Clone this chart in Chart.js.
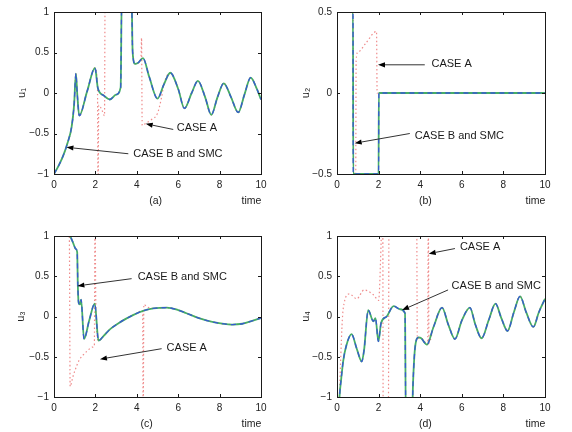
<!DOCTYPE html>
<html>
<head>
<meta charset="utf-8">
<script src="https://cdn.jsdelivr.net/npm/chart.js@4.4.1/dist/chart.umd.min.js"></script>
<style>
  html, body { margin: 0; padding: 0; background: #fff; }
  #wrap { position: relative; width: 572px; height: 432px; background: #fff; overflow: hidden; }
  #wrap canvas { position: absolute; }
</style>
</head>
<body>
<div id="wrap">
  <canvas id="pa" width="286" height="216" style="left:0px;top:0px"></canvas>
  <canvas id="pb" width="286" height="216" style="left:286px;top:0px"></canvas>
  <canvas id="pc" width="286" height="216" style="left:0px;top:216px"></canvas>
  <canvas id="pd" width="286" height="216" style="left:286px;top:216px"></canvas>
</div>
<script>
// ---- axis ticks ----
const timeTicks = [0, 2, 4, 6, 8, 10];
const yTicksFull = [-1, -0.5, 0, 0.5, 1];
const yTicksHalf = [-0.5, 0, 0.5];

// ---- u1 : CASE B and SMC ----
const tB1 = [0, 0.2, 0.45, 0.65, 0.85, 0.97, 1.06, 1.12, 1.22, 1.6, 1.98, 2.12, 2.4, 2.7, 3.0, 3.22, 3.28, 3.74, 3.8, 3.92,
             4.05, 4.3, 4.6, 5.0, 5.3, 5.62, 6.0, 6.3, 6.65, 6.95, 7.3, 7.6, 7.9, 8.2, 8.55, 8.9, 9.2, 9.5, 9.8, 10];
const u1B = [-1, -0.91, -0.77, -0.62, -0.42, -0.15, 0.24, 0.0, -0.28, 0.02, 0.31, 0.06, -0.03, -0.08, -0.02, 0.07, 1.3, 1.3, 0.5, 0.36,
             0.37, 0.43, 0.2, -0.07, 0.1, 0.25, 0.05, -0.19, 0.0, 0.15, -0.05, -0.27, -0.05, 0.12, -0.05, -0.24, -0.02, 0.19, 0.05, -0.08];
// ---- u1 : CASE A (transient, then shares the CASE B curve) ----
const tA1 = [0, 0.2, 0.45, 0.65, 0.85, 0.97, 1.06, 1.12, 1.22, 1.6, 1.98, 2.1, 2.13, 2.16, 2.3, 2.44, 2.47, 3.74, 3.8, 3.92,
             4.05, 4.2, 4.23, 4.26, 4.45, 4.7, 5.0, 5.2];
const u1A = [-1, -0.91, -0.77, -0.62, -0.42, -0.15, 0.24, 0.0, -0.28, 0.02, 0.31, 0.08, -1.3, -0.15, -0.2, -0.28, 1.3, 1.3, 0.5, 0.36,
             0.37, 0.42, 0.68, -0.4, -0.37, -0.33, -0.25, -0.05];

// ---- u2 ----
const tB2 = [0, 0.77, 0.78, 2.0, 2.01, 10];
const u2B = [0.5, 0.5, -0.5, -0.5, 0, 0];
const tA2 = [0, 0.77, 0.8, 0.9, 0.92, 1.0, 1.4, 1.9, 1.93, 2.01, 10];
const u2A = [0.5, 0.5, -0.5, -0.5, 0.2, 0.25, 0.31, 0.38, 0, 0, 0];

// ---- u3 ----
const tB3 = [0, 0.75, 0.9, 1.05, 1.12, 1.15, 1.19, 1.25, 1.31, 1.45, 1.7, 1.97, 2.15, 2.4, 2.7, 3.2, 3.84, 4.3, 4.8, 5.45,
             6.0, 6.4, 7.0, 7.7, 8.6, 9.1, 9.5, 10];
const u3B = [1, 1, 0.93, 0.84, 0.8, 0.4, 0.17, 0.15, 0.21, -0.28, -0.05, 0.16, -0.3, -0.24, -0.16, -0.07, 0.02, 0.07, 0.1, 0.11,
             0.08, 0.04, -0.02, -0.07, -0.1, -0.09, -0.06, -0.02];
const tA3 = [0, 0.74, 0.78, 0.9, 1.0, 1.2, 1.4, 1.6, 1.85, 1.95, 1.98, 2.02, 2.15, 2.4, 2.7, 3.2, 3.84, 4.28, 4.31, 4.34, 4.5];
const u3A = [1, 1, -0.87, -0.76, -0.68, -0.55, -0.48, -0.43, -0.38, -0.36, 1.3, 0.16, -0.3, -0.24, -0.16, -0.07, 0.02, 0.07, -1.3, 0.15, 0.12];

// ---- u4 ----
const tB4 = [0.07, 0.12, 0.2, 0.3, 0.45, 0.7, 0.95, 1.19, 1.3, 1.5, 1.75, 1.85, 1.99, 2.12, 2.39, 2.72, 3.03, 3.27, 3.31, 3.6,
             3.66, 3.76, 3.92, 4.05, 4.32, 4.64, 5.05, 5.35, 5.67, 6.0, 6.39, 6.65, 6.95, 7.3, 7.62, 7.9, 8.2, 8.5, 8.8, 9.1,
             9.44, 9.7, 10];
const u4B = [-1.3, -1.0, -0.78, -0.55, -0.36, -0.22, -0.4, -0.56, -0.42, 0.08, -0.06, -0.02, -0.31, -0.08, 0.0, 0.13, 0.09, 0.04, -1.3, -1.3,
             -0.8, -0.37, -0.26, -0.27, -0.35, -0.13, 0.11, -0.1, -0.28, -0.05, 0.11, -0.1, -0.27, -0.04, 0.16, -0.02, -0.18, 0.05, 0.25, 0.05,
             -0.13, 0.05, 0.22];
const tA4 = [0.07, 0.3, 0.6, 0.95, 1.3, 1.75, 2.0, 2.2, 2.22, 2.47, 2.5, 3.83, 3.86, 4.05, 4.36, 4.39, 4.42, 4.64];
const u4A = [-1.3, 0.1, 0.28, 0.22, 0.33, 0.27, 0.2, 1.3, -1.3, -1.3, 1.3, 1.3, -0.27, -0.27, -0.35, 1.3, -0.33, -0.13];

// ---- callouts: [label, text anchor (t,u), arrow tail (t,u), arrow tip (t,u)] ----
const notesA = [
  ['CASE A',         [5.93, -0.43], [5.76, -0.45], [4.43, -0.38]],
  ['CASE B and SMC', [3.83, -0.75], [3.59, -0.75], [0.6, -0.67]]
];
const notesB = [
  ['CASE A',         [4.54, 0.178], [4.22, 0.174], [1.97, 0.174]],
  ['CASE B and SMC', [3.74, -0.263], [3.5, -0.25], [0.85, -0.31]]
];
const notesC = [
  ['CASE B and SMC', [4.04, 0.485], [3.75, 0.47], [1.13, 0.38]],
  ['CASE A',         [5.44, -0.39], [5.2, -0.4], [2.22, -0.53]]
];
const notesD = [
  ['CASE A',         [5.91, 0.864], [5.67, 0.844], [4.41, 0.78]],
  ['CASE B and SMC', [5.51, 0.38], [5.34, 0.33], [3.13, 0.08]]
];

const FONT = "'Liberation Sans', Arial, Helvetica, sans-serif";
Chart.defaults.font.family = FONT;
Chart.defaults.color = '#222';

function pts(t, u) { return t.map((x, i) => ({ x: x, y: u[i] })); }
// CASE A rejoins CASE B after its transient: append the shared tail
function withTail(tA, uA, tB, uB) {
  const last = tA[tA.length - 1];
  const out = pts(tA, uA);
  tB.forEach((x, i) => { if (x > last) out.push({ x: x, y: uB[i] }); });
  return out;
}
function fmt(v) { return v < 0 ? '\u2212' + String(Math.abs(v)) : String(v); }

const framePlugin = {
  id: 'frame',
  afterDatasetsDraw(chart, args, o) {
    const { ctx, chartArea: a } = chart;
    const x = chart.scales.x, y = chart.scales.y;
    ctx.save();
    // box and inward tick marks on all four sides
    ctx.strokeStyle = '#1a1a1a';
    ctx.lineWidth = 1;
    ctx.beginPath();
    o.xTicks.forEach(v => {
      const px = Math.round(x.getPixelForValue(v)) + 0.5;
      ctx.moveTo(px, a.bottom); ctx.lineTo(px, a.bottom - 3);
      ctx.moveTo(px, a.top); ctx.lineTo(px, a.top + 3);
    });
    o.yTicks.forEach(v => {
      const py = Math.round(y.getPixelForValue(v)) + 0.5;
      ctx.moveTo(a.left, py); ctx.lineTo(a.left + 3, py);
      ctx.moveTo(a.right, py); ctx.lineTo(a.right - 3, py);
    });
    ctx.stroke();
    ctx.strokeRect(Math.round(a.left) + 0.5, Math.round(a.top) + 0.5,
                   Math.round(a.right) - Math.round(a.left), Math.round(a.bottom) - Math.round(a.top));

    // callouts with arrows
    ctx.font = '11px ' + FONT;
    ctx.textBaseline = 'middle';
    ctx.textAlign = 'left';
    o.notes.forEach(n => {
      const [label, tp, tail, tip] = n;
      ctx.fillStyle = '#1a1a1a';
      ctx.fillText(label, x.getPixelForValue(tp[0]), y.getPixelForValue(tp[1]));
      const x0 = x.getPixelForValue(tail[0]), y0 = y.getPixelForValue(tail[1]);
      const x1 = x.getPixelForValue(tip[0]), y1 = y.getPixelForValue(tip[1]);
      const ang = Math.atan2(y1 - y0, x1 - x0);
      const L = 7, W = 2.6;
      ctx.strokeStyle = '#333';
      ctx.lineWidth = 1;
      ctx.beginPath();
      ctx.moveTo(x0, y0);
      ctx.lineTo(x1 - L * Math.cos(ang), y1 - L * Math.sin(ang));
      ctx.stroke();
      ctx.fillStyle = '#000';
      ctx.beginPath();
      ctx.moveTo(x1, y1);
      ctx.lineTo(x1 - L * Math.cos(ang) + W * Math.sin(ang), y1 - L * Math.sin(ang) - W * Math.cos(ang));
      ctx.lineTo(x1 - L * Math.cos(ang) - W * Math.sin(ang), y1 - L * Math.sin(ang) + W * Math.cos(ang));
      ctx.closePath();
      ctx.fill();
    });

    // panel tag and time label under the axis
    ctx.font = '10.5px ' + FONT;
    ctx.fillStyle = '#222';
    ctx.textAlign = 'center';
    ctx.fillText(o.tag, a.left + o.tagDx, a.bottom + 27);
    ctx.fillText('time', a.right - 9.5, a.bottom + 27);
    ctx.restore();
  }
};

function panel(id, cfg) {
  const W = 286, H = 216;
  const caseBData = pts(cfg.tB, cfg.uB);
  return new Chart(document.getElementById(id), {
    type: 'line',
    data: {
      datasets: [
        { label: 'SMC', data: caseBData, borderColor: 'rgba(55,85,215,0.95)', borderWidth: 1.3,
          borderDash: [5, 4], pointRadius: 0, cubicInterpolationMode: 'monotone' },
        { label: 'CASE B', data: caseBData, borderColor: 'rgba(60,170,95,0.95)', borderWidth: 1.8,
          pointRadius: 0, cubicInterpolationMode: 'monotone' },
        { label: 'CASE A', data: withTail(cfg.tA, cfg.uA, cfg.tB, cfg.uB), borderColor: 'rgba(235,110,110,0.8)',
          borderWidth: 1.2, borderDash: [1.5, 2.5], pointRadius: 0, cubicInterpolationMode: 'monotone' }
      ]
    },
    options: {
      responsive: false,
      animation: false,
      devicePixelRatio: 1,
      layout: { padding: { left: 0, top: cfg.area.top, right: W - cfg.area.right, bottom: 0 } },
      plugins: {
        legend: { display: false },
        tooltip: { enabled: false },
        frame: { xTicks: timeTicks, yTicks: cfg.yTicks, notes: cfg.notes, tag: cfg.tag, tagDx: cfg.tagDx }
      },
      scales: {
        x: {
          type: 'linear', min: 0, max: 10,
          grid: { display: false, drawTicks: false },
          border: { display: false },
          ticks: { padding: 5, font: { size: 10 }, color: '#222', callback: v => fmt(v) },
          afterBuildTicks: s => { s.ticks = timeTicks.map(v => ({ value: v })); },
          afterFit: s => { s.height = H - cfg.area.bottom; }
        },
        y: {
          type: 'linear', min: cfg.yTicks[0], max: cfg.yTicks[cfg.yTicks.length - 1],
          grid: { display: false, drawTicks: false },
          border: { display: false },
          ticks: { padding: 5, font: { size: 10 }, color: '#222', callback: v => fmt(v) },
          afterBuildTicks: s => { s.ticks = cfg.yTicks.map(v => ({ value: v })); },
          afterFit: s => { s.width = cfg.area.left; },
          title: { display: true, text: cfg.ylabel, font: { size: 11 }, color: '#222',
                   padding: { top: cfg.ylabelPad, bottom: 0 } }
        }
      }
    },
    plugins: [framePlugin]
  });
}

panel('pa', { tB: tB1, uB: u1B, tA: tA1, uA: u1A, yTicks: yTicksFull, notes: notesA,
  ylabel: 'u\u2081', ylabelPad: 15, tag: '(a)', tagDx: 101.7,
  area: { left: 54, right: 261, top: 12, bottom: 174 } });
panel('pb', { tB: tB2, uB: u2B, tA: tA2, uA: u2A, yTicks: yTicksHalf, notes: notesB,
  ylabel: 'u\u2082', ylabelPad: 13, tag: '(b)', tagDx: 88.4,
  area: { left: 51, right: 259, top: 12, bottom: 174 } });
panel('pc', { tB: tB3, uB: u3B, tA: tA3, uA: u3A, yTicks: yTicksFull, notes: notesC,
  ylabel: 'u\u2083', ylabelPad: 14, tag: '(c)', tagDx: 92.7,
  area: { left: 54, right: 261, top: 20, bottom: 181 } });
panel('pd', { tB: tB4, uB: u4B, tA: tA4, uA: u4A, yTicks: yTicksFull, notes: notesD,
  ylabel: 'u\u2084', ylabelPad: 13.5, tag: '(d)', tagDx: 88.4,
  area: { left: 51, right: 259, top: 20, bottom: 181 } });
</script>
</body>
</html>
